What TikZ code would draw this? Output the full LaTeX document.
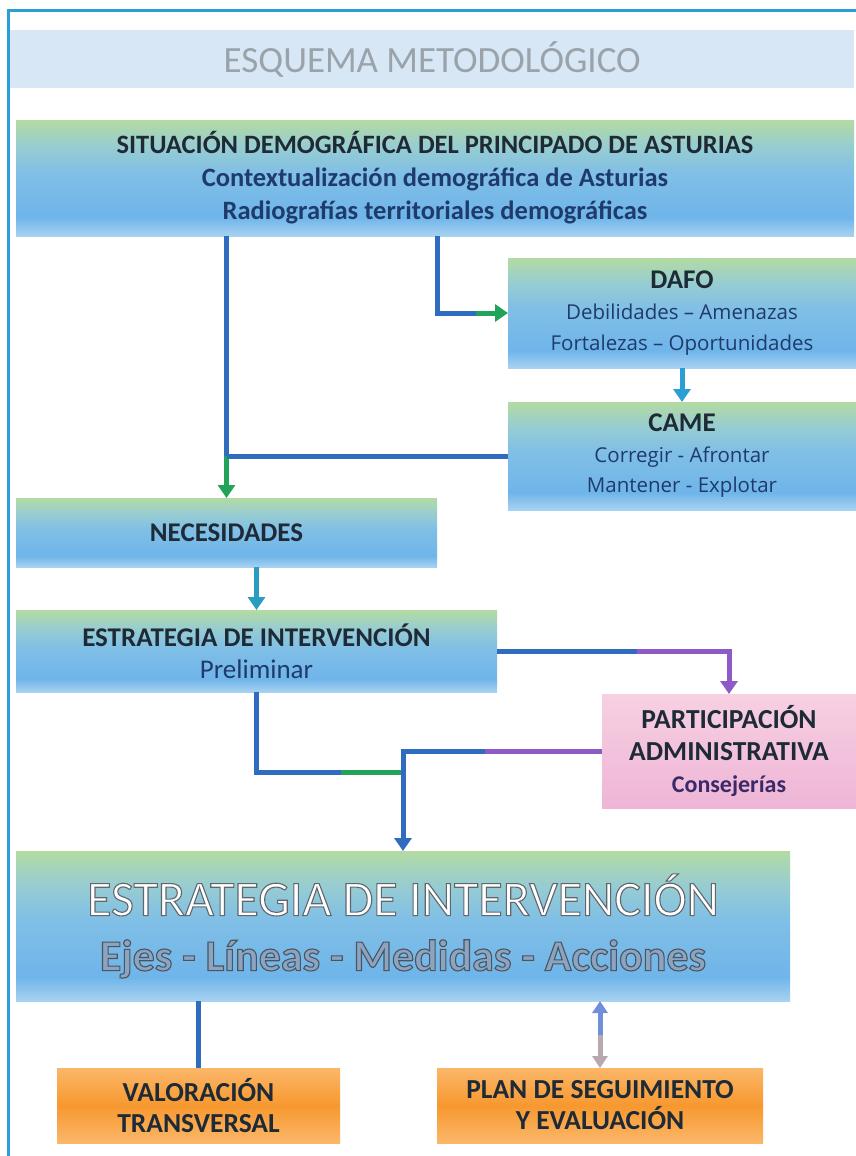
\documentclass[tikz,border=0pt]{standalone}
\usepackage{fontspec}
\setmainfont{Carlito}
\newfontfamily\widefont{Open Sans}
\usetikzlibrary{arrows.meta}
\usetikzlibrary{positioning}
\definecolor{framecol}{HTML}{2A9FD6}
\definecolor{titlefill}{HTML}{D8E7F6}
\definecolor{titletext}{HTML}{9AA2AA}
\definecolor{boxgreen}{HTML}{B3DBA2}
\definecolor{boxteal}{HTML}{98CDD0}
\definecolor{boxmid}{HTML}{80BFE6}
\definecolor{boxblue}{HTML}{6FB5EA}
\definecolor{boxbottom}{HTML}{A8D2F1}
\definecolor{pinktop}{HTML}{F7D0E2}
\definecolor{pinkbottom}{HTML}{EEB5D6}
\definecolor{orangelight}{HTML}{FBB769}
\definecolor{orangedeep}{HTML}{F7982F}
\definecolor{headdark}{HTML}{1E2A36}
\definecolor{subnavy}{HTML}{1F3B6B}
\definecolor{subpurple}{HTML}{3A2A6A}
\definecolor{linkblue}{HTML}{2F6CC0}
\definecolor{linkgreen}{HTML}{22A35A}
\definecolor{linkteal}{HTML}{2A9CC0}
\definecolor{linkpurple}{HTML}{8E5AC8}
\definecolor{linkgray}{HTML}{B8A8B0}
\definecolor{linklight}{HTML}{6F8FD8}
\definecolor{bigfill}{HTML}{8AA4C2}
\pgfdeclareverticalshading{boxshade}{100bp}{color(0bp)=(boxbottom); color(25bp)=(boxbottom); color(33bp)=(boxblue); color(52bp)=(boxmid); color(64bp)=(boxteal); color(75bp)=(boxgreen); color(100bp)=(boxgreen)}
\pgfdeclareverticalshading{pinkshade}{100bp}{color(0bp)=(pinkbottom); color(25bp)=(pinkbottom); color(75bp)=(pinktop); color(100bp)=(pinktop)}
\pgfdeclareverticalshading{orangeshade}{100bp}{color(0bp)=(orangelight); color(25bp)=(orangelight); color(50bp)=(orangedeep); color(75bp)=(orangelight); color(100bp)=(orangelight)}
% hollow letters: fill colour, stroke rgb, text
\newcommand{\hollowtext}[3]{{\color{#1}\special{pdf:literal direct 2 Tr 1.1 w #2 RG}#3\special{pdf:literal direct 0 Tr 0.4 w}}}
\tikzset{
	box/.style={anchor=north west, inner sep=0pt, outer sep=0pt, align=center, shading=boxshade, text=headdark},
	pinkbox/.style={box, shading=pinkshade},
	orangebox/.style={box, shading=orangeshade},
	conn/.style={line width=5pt, color=linkblue},
	tip/.style={-{Triangle[width=17pt,length=13pt]}}
}

\begin{document}
\begin{tikzpicture}[x=1pt, y=-1pt]
	\useasboundingbox (0,0) rectangle (856,1156);
	
	% frame
	\draw[framecol, line width=3pt] (856,11) -- (8,11) -- (8,1156);
	
	% title
	\node[anchor=north west, inner sep=0pt, fill=titlefill, minimum width=844pt, minimum height=58pt, font=\fontsize{37}{40}\selectfont, text=titletext] (title) at (10,30) {ESQUEMA METODOLÓGICO};
	
	% top
	\node[box, minimum width=838pt, minimum height=116pt, font=\bfseries\fontsize{26.5}{33}\selectfont] (situ) at (16,120)
	{SITUACIÓN DEMOGRÁFICA DEL PRINCIPADO DE ASTURIAS\\
	\textcolor{subnavy}{Contextualización demográfica de Asturias}\\
	\textcolor{subnavy}{Radiografías territoriales demográficas}};
	
	% right column
	\node[box, minimum width=348pt, minimum height=110pt, font=\fontsize{20.5}{31}\selectfont] (dafo) at (508,258)
	{\textbf{\fontsize{27}{31}\selectfont DAFO}\\
	\widefont\textcolor{subnavy}{Debilidades – Amenazas}\\
	\widefont\textcolor{subnavy}{Fortalezas – Oportunidades}};
	\node[box, minimum width=348pt, minimum height=108pt, font=\fontsize{20.5}{30.5}\selectfont] (came) at (508,402)
	{\textbf{\fontsize{27}{30.5}\selectfont CAME}\\
	\widefont\textcolor{subnavy}{Corregir - Afrontar}\\
	\widefont\textcolor{subnavy}{Mantener - Explotar}};
	
	% left column
	\node[box, minimum width=421pt, minimum height=69pt, font=\bfseries\fontsize{27}{32}\selectfont] (nec) at (16,498) {NECESIDADES};
	\node[box, minimum width=481pt, minimum height=82pt, font=\fontsize{27}{32}\selectfont] (pre) at (16,610)
	{\textbf{ESTRATEGIA DE INTERVENCIÓN}\\
	\textcolor{subnavy}{Preliminar}};
	\node[pinkbox, minimum width=254pt, minimum height=114pt, font=\bfseries\fontsize{27.5}{32}\selectfont] (part) at (602,694)
	{PARTICIPACIÓN\\
	ADMINISTRATIVA\\
	\textcolor{subpurple}{\fontsize{24}{32}\selectfont Consejerías}};
	
	% main strategy
	\node[box, minimum width=774pt, minimum height=150pt, font=\fontsize{50}{55}\selectfont] (big) at (16,851)
	{\hollowtext{white}{0.38 0.40 0.43}{ESTRATEGIA DE INTERVENCIÓN}\\
	\hollowtext{bigfill}{0.30 0.33 0.37}{\bfseries\fontsize{44}{55}\selectfont Ejes - Líneas - Medidas - Acciones}};
	
	% bottom
	\node[orangebox, minimum width=283pt, minimum height=75pt, font=\bfseries\fontsize{27.5}{31}\selectfont] (val) at (57,1068)
	{VALORACIÓN\\ TRANSVERSAL};
	\node[orangebox, minimum width=326pt, minimum height=75pt, font=\bfseries\fontsize{27.5}{31}\selectfont] (plan) at (437,1068)
	{PLAN DE SEGUIMIENTO\\ Y EVALUACIÓN};
	
	% connectors
	\coordinate (cameend) at (came.west -| nec.north);
	\draw[conn] (situ.south -| nec.north) -- (cameend);
	\draw[conn, linkgreen, tip] (cameend) -- (nec.north);
	\draw[conn] (came.west) -- (cameend);
	\coordinate (dafobend) at (dafo.west -| nec.east);
	\draw[conn] (situ.south -| nec.east) -- (dafobend) -- ([xshift=-30pt]dafo.west);
	\draw[conn, linkgreen, tip] ([xshift=-32pt]dafo.west) -- (dafo.west);
	\draw[conn, tip, color=framecol] (dafo.south) -- (came.north);
	\draw[conn, linkteal, tip] (nec.south -| pre.north) -- (pre.north);
	\coordinate (partbend) at (pre.east -| part.north);
	\draw[conn] (pre.east) -- ([xshift=-90pt]partbend);
	\draw[conn, linkpurple, tip] ([xshift=-92pt]partbend) -- (partbend) -- (part.north);
	\coordinate (prebend) at (pre.south |- 0,772);
	\coordinate (joinpt) at (big.north |- 0,772);
	\draw[conn] (pre.south) -- (prebend) -- ([xshift=-60pt]joinpt);
	\draw[conn, linkgreen] ([xshift=-62pt]joinpt) -- ([xshift=2pt]joinpt);
	\coordinate (partleft) at (part.west -| big.north);
	\draw[conn, linkpurple] (part.west) -- ([xshift=80pt]partleft);
	\draw[conn, tip] ([xshift=82pt]partleft) -- (partleft) -- (big.north);
	\draw[conn] (big.south -| val.north) -- (val.north);
	\draw[conn, linkgray, -{Triangle[width=15pt,length=12pt]}] (big.south -| plan.north) ++(0,32) -- (plan.north);
	\draw[conn, linklight, -{Triangle[width=15pt,length=12pt]}] (big.south -| plan.north) ++(0,34) -- (big.south -| plan.north);
\end{tikzpicture}
\end{document}
